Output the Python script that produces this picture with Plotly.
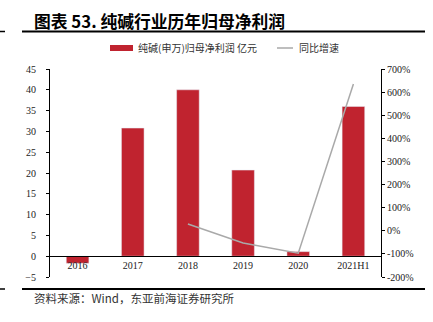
import plotly.graph_objects as go

categories = ["2016", "2017", "2018", "2019", "2020", "2021H1"]
profit = [-1.7, 30.8, 40.0, 20.7, 1.1, 36.0]
growth = [None, None, 29, -53, -97, 635]

left_ticks = list(range(-5, 50, 5))
right_ticks = list(range(-200, 800, 100))
right_labels = [f"{v}%" for v in right_ticks]

title = "图表 53. 纯碱行业历年归母净利润"
bar_name = "纯碱(申万)归母净利润 亿元"
line_name = "同比增速"
source = "资料来源：Wind，东亚前海证券研究所"

RED = "#C0232F"
GRAY = "#A9A9A9"
serif = "Liberation Serif, Times New Roman, serif"
cjk = "Noto Sans CJK SC"

L, R, T, B = 50, 381, 69, 277

fig = go.Figure()
fig.add_trace(go.Bar(x=categories, y=profit, marker_color=RED, width=0.41,
                     name=bar_name, showlegend=False))
fig.add_trace(go.Scatter(x=categories, y=growth, mode="lines",
                         line=dict(color=GRAY, width=1.5), yaxis="y2",
                         name=line_name, showlegend=False, connectgaps=False))

fig.update_layout(
    width=433, height=322,
    margin=dict(l=L, r=433 - R, t=T, b=322 - B),
    paper_bgcolor="white", plot_bgcolor="white",
    font=dict(family=serif, size=10, color="#222"),
    xaxis=dict(type="category", anchor="free", position=0.1,
               showline=True, linecolor="black", linewidth=1,
               ticks="", showgrid=False, zeroline=False,
               tickfont=dict(family=serif, size=10, color="#222"),
               range=[-0.5, 5.5]),
    yaxis=dict(range=[-5, 45], tickvals=left_ticks, showgrid=False,
               zeroline=False, showline=True, linecolor="black", linewidth=1,
               ticks="outside", ticklen=3, tickcolor="black",
               ticklabelstandoff=8,
               tickfont=dict(family=serif, size=10, color="#222")),
    yaxis2=dict(range=[-200, 700], tickvals=right_ticks, ticktext=right_labels,
                overlaying="y", side="right", showgrid=False, zeroline=False,
                showline=True, linecolor="black", linewidth=1,
                ticks="outside", ticklen=3, tickcolor="black",
                tickfont=dict(family=serif, size=10, color="#222")),
)

def px_x(px):
    return (px - L) / (R - L)
def px_y(py):
    return (B - py) / (B - T)

shapes = [
    dict(type="line", x0=px_x(22), x1=px_x(425), y0=px_y(31.5), y1=px_y(31.5),
         line=dict(color="black", width=2)),
    dict(type="line", x0=px_x(0), x1=px_x(5), y0=px_y(31.5), y1=px_y(31.5),
         line=dict(color="black", width=1.5)),
    dict(type="line", x0=px_x(22), x1=px_x(425), y0=px_y(289), y1=px_y(289),
         line=dict(color="black", width=2)),
    dict(type="line", x0=px_x(0), x1=px_x(5), y0=px_y(289), y1=px_y(289),
         line=dict(color="black", width=1.5)),
    # legend markers
    dict(type="rect", x0=px_x(110), x1=px_x(133), y0=px_y(51), y1=px_y(45),
         fillcolor=RED, line=dict(width=0)),
    dict(type="line", x0=px_x(277), x1=px_x(293), y0=px_y(48), y1=px_y(48),
         line=dict(color=GRAY, width=1.5)),
]
for s in shapes:
    s.update(xref="paper", yref="paper")
fig.update_layout(shapes=shapes)

annotations = [
    dict(text=bar_name, x=px_x(136), y=px_y(48), xanchor="left", yanchor="middle",
         font=dict(family=cjk, size=10, color="#333")),
    dict(text=line_name, x=px_x(297), y=px_y(48), xanchor="left", yanchor="middle",
         font=dict(family=cjk, size=10, color="#333")),
    dict(text="<b>" + title + "</b>", x=px_x(32), y=px_y(21), xanchor="left", yanchor="middle",
         font=dict(family=cjk, size=16.8, color="black")),
    dict(text=source, x=px_x(32), y=px_y(298), xanchor="left", yanchor="middle",
         font=dict(family=cjk, size=11.5, color="#333")),
]
for a in annotations:
    a.update(xref="paper", yref="paper", showarrow=False)
fig.update_layout(annotations=annotations)

fig.write_html("out.html")
